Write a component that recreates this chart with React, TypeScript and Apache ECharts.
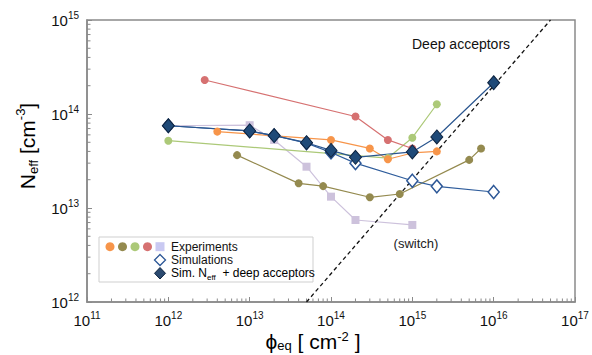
import React, { useEffect, useRef } from "react";
import * as echarts from "echarts";

// ---- data ----
const orangeX = [4e12, 1e14, 3e14, 5e14, 1e15, 2e15];
const orangeY = [6.5e13, 5.3e13, 4.3e13, 3.3e13, 3.85e13, 4.0e13];

const oliveX = [7e12, 4e13, 8e13, 3e14, 7e14, 5e15, 7e15];
const oliveY = [3.65e13, 1.83e13, 1.71e13, 1.3e13, 1.41e13, 3.25e13, 4.3e13];

const greenX = [1e12, 5e14, 1e15, 2e15];
const greenY = [5.2e13, 3.4e13, 5.6e13, 1.27e14];

const redX = [2.8e12, 2e14, 5e14, 1e15];
const redY = [2.3e14, 9.4e13, 5.3e13, 4.3e13];

const lavX = [1e12, 1e13, 2e13, 5e13, 1e14, 2e14, 1e15];
const lavY = [7.5e13, 7.6e13, 5.3e13, 2.75e13, 1.32e13, 7.45e12, 6.6e12];

const simX = [1e12, 1e13, 2e13, 5e13, 1e14, 2e14, 1e15, 2e15, 1e16];
const simY = [7.5e13, 6.6e13, 5.9e13, 4.9e13, 3.9e13, 3.0e13, 1.95e13, 1.7e13, 1.48e13];
const simDeepY = [7.5e13, 6.6e13, 5.9e13, 4.95e13, 4.1e13, 3.46e13, 3.95e13, 5.7e13, 2.15e14];

const deepX = [5e13, 5e16];
const deepY = [1e12, 1e15];

const xMin = 1e11, xMax = 1e17;
const yMin = 1e12, yMax = 1e15;
const minorMultipliers = [2, 3, 4, 5, 6, 7, 8, 9];
const xDecades = [11, 12, 13, 14, 15, 16];
const yDecades = [12, 13, 14];
const xMinorTicks: number[] = [];
xDecades.forEach((e) => minorMultipliers.forEach((m) => xMinorTicks.push(m * Math.pow(10, e))));
const yMinorTicks: number[] = [];
yDecades.forEach((e) => minorMultipliers.forEach((m) => yMinorTicks.push(m * Math.pow(10, e))));

const zip = (xs: number[], ys: number[]) => xs.map((x, i) => [x, ys[i]]);

const FONT = "Liberation Sans, Arial, sans-serif";
const AXIS = "#8a8a8a";

const expLabel = (v: number) => `{b|10}{s|${Math.round(Math.log10(v))}}`;
const expRich = {
  b: { fontSize: 15, fontFamily: FONT, color: "#111", lineHeight: 20, verticalAlign: "middle" },
  s: { fontSize: 10, fontFamily: FONT, color: "#111", lineHeight: 20, verticalAlign: "top" },
};

export default function App() {
  const ref = useRef<HTMLDivElement>(null);
  useEffect(() => {
    if (!ref.current) return;
    const chart = echarts.init(ref.current, null, { renderer: "svg" });
    const expSeries = (name: string, xs: number[], ys: number[], color: string, symbol = "circle", size = 8) => ({
      name,
      type: "line",
      data: zip(xs, ys),
      symbol,
      symbolSize: size,
      showSymbol: true,
      lineStyle: { color, width: 1.2 },
      itemStyle: { color, opacity: 1 },
      emphasis: { disabled: true },
    });
    const minorTickSeries = (vertical: boolean) => ({
      type: "custom",
      silent: true,
      clip: false,
      data: vertical ? yMinorTicks.map((v) => [xMin, v]) : xMinorTicks.map((v) => [v, yMin]),
      renderItem: (params: any, api: any) => {
        const p = api.coord([api.value(0), api.value(1)]);
        return {
          type: "line",
          shape: vertical
            ? { x1: p[0], y1: p[1], x2: p[0] + 3.5, y2: p[1] }
            : { x1: p[0], y1: p[1], x2: p[0], y2: p[1] - 3.5 },
          style: { stroke: AXIS, lineWidth: 1 },
        };
      },
      z: 1,
    });
    const option: any = {
      animation: false,
      backgroundColor: "#fff",
      grid: { left: 87, right: 17, top: 20, bottom: 53, show: true, borderColor: AXIS, borderWidth: 1.5, backgroundColor: "transparent" },
      xAxis: {
        type: "log", logBase: 10, min: xMin, max: xMax,
        axisLine: { show: true, lineStyle: { color: AXIS, width: 1.5 } },
        axisTick: { show: true, inside: true, length: 5, lineStyle: { color: AXIS } },
        splitLine: { show: false },
        axisLabel: { formatter: expLabel, rich: expRich, margin: 8 },
      },
      yAxis: {
        type: "log", logBase: 10, min: yMin, max: yMax,
        axisLine: { show: true, lineStyle: { color: AXIS, width: 1.5 } },
        axisTick: { show: true, inside: true, length: 5, lineStyle: { color: AXIS } },
        splitLine: { show: false },
        axisLabel: { formatter: expLabel, rich: expRich, margin: 8 },
      },
      series: [
        minorTickSeries(false),
        minorTickSeries(true),
        expSeries("lav", lavX, lavY, "#cdc2dc", "rect", 8),
        expSeries("olive", oliveX, oliveY, "#948a4f"),
        expSeries("green", greenX, greenY, "#acc978"),
        expSeries("orange", orangeX, orangeY, "#f7954a"),
        expSeries("red", redX, redY, "#d67171"),
        {
          name: "deep", type: "line", data: zip(deepX, deepY), symbol: "none",
          lineStyle: { color: "#111", width: 1.3, type: [4, 3] },
          emphasis: { disabled: true },
        },
        {
          name: "sim", type: "line", data: zip(simX, simY), symbol: "diamond", symbolSize: [11, 13],
          lineStyle: { color: "#2f5d9c", width: 1.2 },
          itemStyle: { color: "#ffffff", borderColor: "#2c5797", borderWidth: 1.5 },
          emphasis: { disabled: true },
        },
        {
          name: "simDeep", type: "line", data: zip(simX, simDeepY), symbol: "diamond", symbolSize: [12, 14],
          lineStyle: { color: "#2a568f", width: 1.2 },
          itemStyle: { color: "#1f4a78", borderColor: "#0e2440", borderWidth: 1 },
          emphasis: { disabled: true },
        },
      ],
      graphic: [
        {
          type: "text", x: 412, y: 44, z: 10,
          style: { text: "Deep acceptors", font: `14px ${FONT}`, fill: "#111", verticalAlign: "middle", align: "left" },
        },
        {
          type: "text", x: 416, y: 243, z: 10,
          style: { text: "(switch)", font: `13px ${FONT}`, fill: "#222", verticalAlign: "middle", align: "center" },
        },
        {
          type: "rect", z: 10, shape: { x: 99, y: 237, width: 214, height: 45 },
          style: { fill: "#fff", stroke: "#cfcfcf", lineWidth: 1 },
        },
        { type: "circle", z: 11, shape: { cx: 110, cy: 246.7, r: 4.5 }, style: { fill: "#f7954a" } },
        { type: "circle", z: 11, shape: { cx: 122.5, cy: 246.7, r: 4.5 }, style: { fill: "#948a4f" } },
        { type: "circle", z: 11, shape: { cx: 135, cy: 246.7, r: 4.5 }, style: { fill: "#acc978" } },
        { type: "circle", z: 11, shape: { cx: 147.5, cy: 246.7, r: 4.5 }, style: { fill: "#d67171" } },
        { type: "rect", z: 11, shape: { x: 155.5, y: 242.2, width: 9, height: 9 }, style: { fill: "#c9c9f2" } },
        {
          type: "polygon", z: 11, shape: { points: [[160, 254.5], [165.5, 260], [160, 265.5], [154.5, 260]] },
          style: { fill: "#fff", stroke: "#2c5797", lineWidth: 1.3 },
        },
        {
          type: "polygon", z: 11, shape: { points: [[160, 267.5], [165.5, 273.3], [160, 279], [154.5, 273.3]] },
          style: { fill: "#2b4a70", stroke: "#0e2440", lineWidth: 1 },
        },
        {
          type: "text", x: 171, y: 246.7, z: 11,
          style: { text: "Experiments", font: `12px ${FONT}`, fill: "#111", verticalAlign: "middle" },
        },
        {
          type: "text", x: 171, y: 260, z: 11,
          style: { text: "Simulations", font: `12px ${FONT}`, fill: "#111", verticalAlign: "middle" },
        },
        {
          type: "text", x: 171, y: 273.3, z: 11,
          style: {
            text: "{m|Sim. N}{d|eff}{m|  + deep acceptors}",
            verticalAlign: "middle",
            rich: {
              m: { fontSize: 12, fontFamily: FONT, color: "#111", lineHeight: 16, verticalAlign: "middle" },
              d: { fontSize: 8, fontFamily: FONT, color: "#111", lineHeight: 16, verticalAlign: "bottom" },
            },
          },
        },
        {
          type: "text", x: 27, y: 146, rotation: Math.PI / 2, z: 10,
          style: {
            text: "{m|N}{d|eff}{m| [cm}{u|-3}{m|]}",
            align: "center", verticalAlign: "middle",
            rich: {
              m: { fontSize: 21, fontFamily: FONT, color: "#111", lineHeight: 26, verticalAlign: "middle" },
              d: { fontSize: 13, fontFamily: FONT, color: "#111", lineHeight: 26, verticalAlign: "bottom" },
              u: { fontSize: 13, fontFamily: FONT, color: "#111", lineHeight: 26, verticalAlign: "top" },
            },
          },
        },
        {
          type: "text", x: 313, y: 341, z: 10,
          style: {
            text: "{m|\u03d5}{d|eq}{m| [ cm}{u|-2}{m| ]}",
            align: "center", verticalAlign: "middle",
            rich: {
              m: { fontSize: 21, fontFamily: FONT, color: "#111", lineHeight: 22, verticalAlign: "middle" },
              d: { fontSize: 13, fontFamily: FONT, color: "#111", lineHeight: 22, verticalAlign: "bottom" },
              u: { fontSize: 13, fontFamily: FONT, color: "#111", lineHeight: 22, verticalAlign: "top" },
            },
          },
        },
      ],
    };
    chart.setOption(option);
    return () => chart.dispose();
  }, []);
  return <div ref={ref} style={{ width: 592, height: 355, position: "absolute", left: 0, top: 0 }} />;
}
